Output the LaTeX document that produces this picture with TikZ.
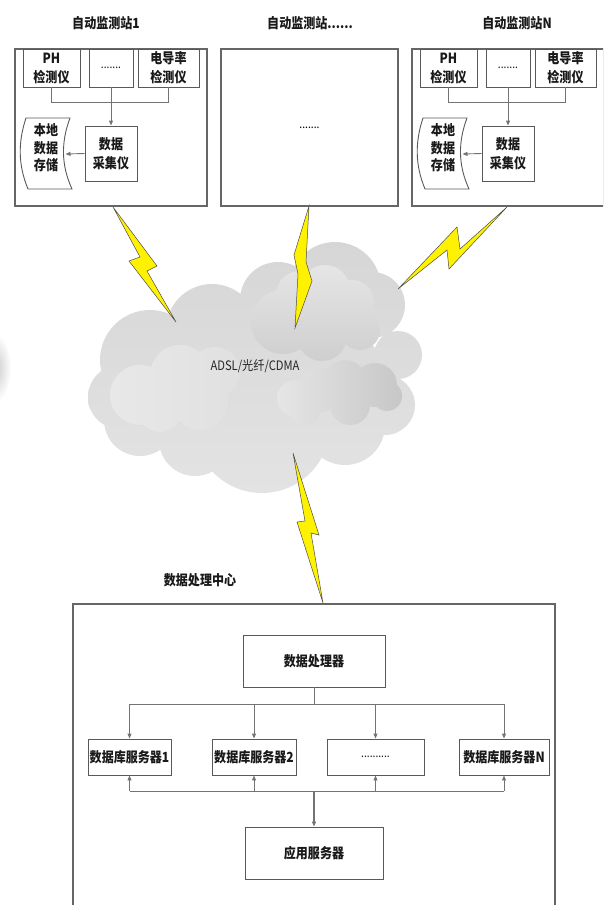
\documentclass[tikz,border=0pt]{standalone}
\usepackage{fontspec}
\setmainfont{Noto Sans CJK SC}[FakeStretch=0.86]
\usetikzlibrary{arrows.meta}

\begin{document}
\begin{tikzpicture}[x=1pt,y=-1pt,
  frame/.style={draw=black!60, line width=1.1pt},
  unit/.style={draw=black!65, line width=0.9pt, align=center, inner sep=0pt,
    font=\bfseries\fontsize{14}{19}\selectfont, text=black!90},
  link/.style={draw=black!55, line width=0.9pt},
  arr/.style={link, -{Triangle[length=5pt,width=4pt]}},
  heading/.style={font=\bfseries\fontsize{14}{16}\selectfont, text=black!90},
  dots/.style={font=\fontsize{12}{14}\selectfont},
  bolt/.style={fill=yellow, draw=black!70, line width=0.5pt, line join=miter},
]
\useasboundingbox (0,0) rectangle (603,905);
\clip (0,0) rectangle (603,905);

% ---------- network cloud ----------
\shade[inner color=black!20, outer color=white] (-4,368) ellipse (15 and 34);
\shade[top color=black!16, bottom color=black!11]
  (150,360) circle (50) (120,397) circle (32) (108,400) circle (20)
  (212,330) circle (46) (278,300) circle (38) (335,288) circle (46)
  (372,305) circle (33) (398,355) circle (24) (385,405) circle (30)
  (345,425) circle (40) (262,425) circle (68) (195,440) circle (36)
  (140,420) circle (36) (255,375) ellipse (130 and 70);
\shade[left color=black!9, right color=black!12]
  (140,395) circle (30) (180,375) circle (30) (215,372) circle (25)
  (200,402) circle (28) (160,410) circle (22);
\shade[top color=black!10, bottom color=black!19]
  (283,322) circle (32) (300,295) circle (24) (325,290) circle (25)
  (352,302) circle (22) (360,330) circle (20) (322,336) circle (25);
\shade[left color=black!10, right color=black!22]
  (295,398) circle (18) (320,390) circle (22) (345,382) circle (22)
  (375,385) circle (22) (387,396) circle (15) (350,405) circle (20)
  (305,410) circle (15);
\node[font=\fontsize{13}{15}\selectfont, text=black!85] (net) at (255,366) {ADSL/光纤/CDMA};

% ---------- lightning links ----------
\draw[bolt] (113,207) -- (157,266) -- (147,271) -- (176,322) -- (129,261) -- (140,257) -- cycle;
\draw[bolt] (309,206) -- (306,262) -- (312,281) -- (295,328) -- (298,274) -- (294,255) -- cycle;
\draw[bolt] (507,207) -- (449,269) -- (447,250) -- (398,289) -- (457,227) -- (460,249) -- cycle;
\draw[bolt] (293,453) -- (319,535) -- (311,533) -- (323,603) -- (297,522) -- (305,521) -- cycle;

% ---------- monitoring stations 1 and N ----------
\foreach \dx/\p in {0/a, 397/c} {
  \begin{scope}[xshift=\dx pt]
    \node[frame, minimum width=192pt, minimum height=157pt] (\p-frame) at (111,127.5) {};
    \node[unit, minimum width=57pt, minimum height=38pt] (\p-ph) at (51.5,68) {PH\\检测仪};
    \node[unit, minimum width=44pt, minimum height=38pt, dots] (\p-dot) at (111,68) {.......};
    \node[unit, minimum width=61pt, minimum height=38pt] (\p-ec) at (168.5,68) {电导率\\检测仪};
    \node[unit, minimum width=52pt, minimum height=55pt] (\p-acq) at (111,153.5) {数据\\采集仪};
    \draw[draw=black!65, line width=0.9pt]
      (26,118) -- (70,118) .. controls (61,142) and (61,165) .. (72,189)
      -- (28,189) .. controls (18,165) and (18,142) .. cycle;
    \node[align=center, font=\bfseries\fontsize{14}{17.5}\selectfont, text=black!90] (\p-store) at (46,148) {本地\\数据\\存储};
    \coordinate (\p-in) at (65.5,154);
    \draw[link] (\p-ph.south) -- ++(0,15) -| (\p-ec.south);
    \draw[arr] (\p-dot.south) -- (\p-acq.north);
    \draw[arr] (\p-acq.west) -- (\p-in);
  \end{scope}
}
\node[heading] (t-a) at (106,23) {自动监测站1};
\node[heading] (t-c) at (517,23) {自动监测站N};

% ---------- middle station ----------
\node[frame, minimum width=177pt, minimum height=157pt] (b-frame) at (309.5,127.5) {};
\node[dots] (b-dot) at (309.5,128) {.......};
\node[heading] (t-b) at (310,23) {自动监测站......};

% ---------- data processing centre ----------
\node[heading] (t-d) at (200,580) {数据处理中心};
\draw[frame] (73,912) -- (73,604) -- (555,604) -- (555,912);
\node[unit, minimum width=142pt, minimum height=52pt] (proc) at (314,661) {数据处理器};
\node[unit, minimum width=83pt, minimum height=36pt] (db1) at (129.5,757) {数据库服务器1};
\node[unit, minimum width=84pt, minimum height=36pt] (db2) at (254,757) {数据库服务器2};
\node[unit, minimum width=97pt, minimum height=36pt, dots] (dbx) at (375.5,757) {..........};
\node[unit, minimum width=90pt, minimum height=36pt] (dbn) at (504,757) {数据库服务器N};
\node[unit, minimum width=138pt, minimum height=52pt] (app) at (314,853) {应用服务器};

\coordinate (busT) at (314,704);
\coordinate (busB) at (314,791);
\draw[link] (proc.south) -- (busT);
\draw[link] (db1.north |- busT) -- (dbn.north |- busT);
\draw[link] (db1.south |- busB) -- (dbn.south |- busB);
\foreach \n in {db1,db2,dbx,dbn} {
  \draw[arr] (\n.north |- busT) -- (\n.north);
  \draw[arr] (\n.south |- busB) -- (\n.south);
}
\draw[arr, line width=1.2pt] (busB) -- (app.north);
\end{tikzpicture}
\end{document}
